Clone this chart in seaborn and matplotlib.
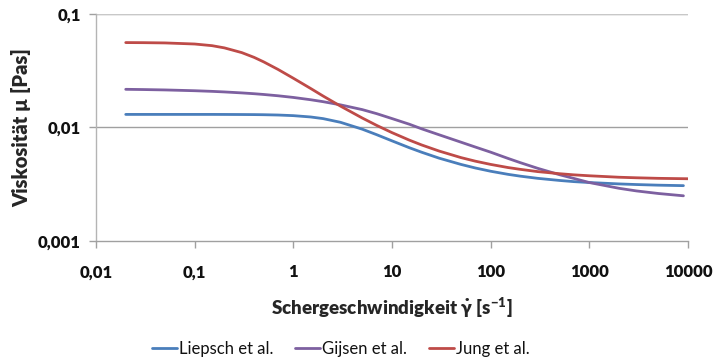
import matplotlib
matplotlib.use("Agg")
import matplotlib.pyplot as plt
from matplotlib.ticker import FixedLocator, FixedFormatter, NullLocator
import pandas as pd
import seaborn as sns

# Shear rate sample points [1/s]
shear_rate = [0.02, 0.03, 0.05, 0.1, 0.15, 0.2, 0.3, 0.4, 0.5, 0.7, 1, 1.5, 2,
              3, 5, 7, 10, 15, 20, 30, 50, 70, 100, 150, 200, 300, 500, 700,
              1000, 2000, 3000, 5000, 9000]
shear_rate_jung = shear_rate[:-1] + [10000]

# Viscosity [Pas]
liepsch = [0.0130, 0.0130, 0.0130, 0.0130, 0.0130, 0.01299, 0.01297, 0.01295,
           0.01292, 0.01284, 0.01268, 0.01234, 0.01194, 0.01108, 0.00963,
           0.00861, 0.0076, 0.00661, 0.00603, 0.00535, 0.00471, 0.00438,
           0.0041, 0.00385, 0.00371, 0.00355, 0.0034, 0.00332, 0.00326,
           0.00317, 0.00313, 0.00309, 0.00306]
gijsen = [0.02164, 0.02154, 0.02137, 0.02103, 0.02076, 0.02052, 0.02012,
          0.01979, 0.01949, 0.01898, 0.01835, 0.01751, 0.01684, 0.01579,
          0.01433, 0.01320, 0.01195, 0.01065, 0.0097, 0.0086, 0.0074, 0.00670,
          0.00604, 0.00532, 0.00488, 0.00435, 0.00382, 0.00354, 0.00326,
          0.00290, 0.00275, 0.00261, 0.00249]
jung = [0.0559, 0.0558, 0.0555, 0.0543, 0.0525, 0.0502, 0.0456, 0.0414,
        0.0378, 0.0324, 0.0271, 0.0220, 0.0189, 0.0154, 0.01208, 0.0104,
        0.00898, 0.00771, 0.00699, 0.00618, 0.00541, 0.00503, 0.00471,
        0.00442, 0.00426, 0.00407, 0.00390, 0.00381, 0.00374, 0.00363,
        0.00359, 0.00355, 0.00352]

series_names = ["Liepsch et al.", "Gijsen et al.", "Jung et al."]
series_colors = ["#4A7EBB", "#7D60A0", "#BE4B48"]

x_ticks = [0.01, 0.1, 1, 10, 100, 1000, 10000]
x_tick_labels = ["0,01", "0,1", "1", "10", "100", "1000", "10000"]
y_ticks = [0.001, 0.01, 0.1]
y_tick_labels = ["0,001", "0,01", "0,1"]

frames = []
for name, xs, ys in zip(series_names,
                        [shear_rate, shear_rate, shear_rate_jung],
                        [liepsch, gijsen, jung]):
    frames.append(pd.DataFrame({"rate": xs, "mu": ys, "model": name}))
df = pd.concat(frames, ignore_index=True)

sns.set_theme(style="white")
plt.rcParams["font.family"] = ["Lato", "DejaVu Sans"]
plt.rcParams["mathtext.fontset"] = "custom"
plt.rcParams["mathtext.rm"] = "Lato:heavy"
plt.rcParams["mathtext.it"] = "Lato:heavy"
plt.rcParams["mathtext.bf"] = "Lato:heavy"
plt.rcParams["text.color"] = "#111111"

fig = plt.figure(figsize=(7.14, 3.62), dpi=100)
ax = fig.add_axes([0.1345, 0.335, 0.829, 0.6265])

sns.lineplot(data=df, x="rate", y="mu", hue="model", hue_order=series_names,
             palette=series_colors, estimator=None, sort=False,
             linewidth=2.0, ax=ax, legend=True)

ax.set_xscale("log")
ax.set_yscale("log")
ax.set_xlim(0.01, 10000)
ax.set_ylim(0.001, 0.1)

ax.xaxis.set_major_locator(FixedLocator(x_ticks))
ax.xaxis.set_major_formatter(FixedFormatter(x_tick_labels))
ax.xaxis.set_minor_locator(NullLocator())
ax.yaxis.set_major_locator(FixedLocator(y_ticks))
ax.yaxis.set_major_formatter(FixedFormatter(y_tick_labels))
ax.yaxis.set_minor_locator(NullLocator())

ax.grid(False)
for yv in y_ticks[1:]:
    ax.axhline(yv, color="#a0a0a0", linewidth=1.0, zorder=0)
ax.axhline(y_ticks[-1], color="#c8c8c8", linewidth=1.5, zorder=0)

for side in ["top", "right"]:
    ax.spines[side].set_visible(False)
ax.spines["left"].set_color("#b4b4b4")
ax.spines["bottom"].set_color("#a0a0a0")
ax.spines["left"].set_linewidth(1.0)
ax.spines["bottom"].set_linewidth(1.0)

ax.tick_params(axis="both", which="major", direction="out", length=5,
               width=1.0, color="#a0a0a0", labelsize=12, labelcolor="#111111",
               bottom=True, left=True)
for lbl in ax.get_xticklabels() + ax.get_yticklabels():
    lbl.set_fontweight("heavy")
ax.tick_params(axis="x", pad=12)
ax.tick_params(axis="y", pad=6)

ax.set_xlabel(r"Schergeschwindigkeit $\dot{\gamma}$ [s$^{\mathregular{-1}}$]",
              fontsize=13.5, fontweight="heavy", labelpad=11)
ax.set_ylabel("Viskosität µ [Pas]", fontsize=14.5, fontweight="heavy",
              labelpad=5)

handles, labels = ax.get_legend_handles_labels()
ax.legend(handles, labels, loc="center", bbox_to_anchor=(0.4776, 0.035),
          bbox_transform=fig.transFigure, ncol=3, frameon=False,
          fontsize=12, handlelength=1.5, handletextpad=0.12,
          columnspacing=1.3)

fig.savefig("out.png", dpi=100)
